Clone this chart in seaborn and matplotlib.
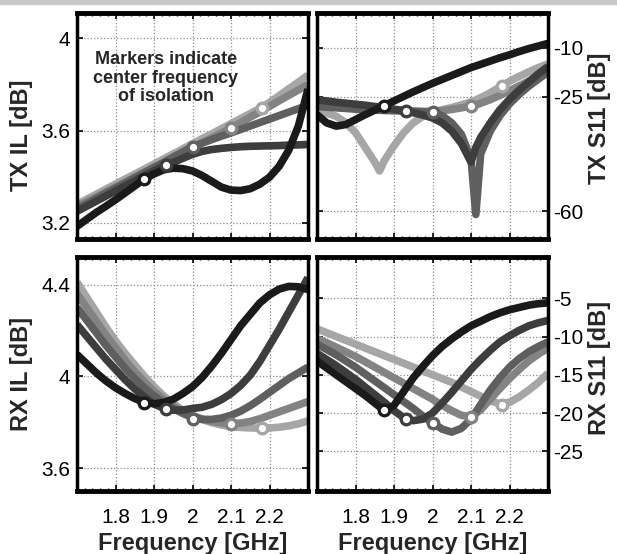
import numpy as np
import pandas as pd
import seaborn as sns
import matplotlib.pyplot as plt
from matplotlib.ticker import FixedLocator, MultipleLocator
from matplotlib.patches import Rectangle

############################## data ##############################

# common frequency grid [GHz]
FREQ = [1.700, 1.725, 1.750, 1.775, 1.800, 1.825, 1.850, 1.875, 1.900, 1.925,
        1.950, 1.975, 2.000, 2.025, 2.050, 2.075, 2.100, 2.125, 2.150, 2.175,
        2.200, 2.225, 2.250, 2.275, 2.300]

# TX S11 needs two extra points at the notches
FREQ_TX_S11 = [1.700, 1.725, 1.750, 1.775, 1.800, 1.825, 1.850, 1.8625, 1.875,
               1.900, 1.925, 1.950, 1.975, 2.000, 2.025, 2.050, 2.075, 2.100,
               2.1125, 2.125, 2.150, 2.175, 2.200, 2.225, 2.250, 2.275, 2.300]

# one curve per isolation centre frequency (darkest -> lightest)
SERIES = ['1.88 GHz', '1.93 GHz', '2.00 GHz', '2.10 GHz', '2.18 GHz']
COLORS = ['#1a1a1a', '#3d3d3d', '#5f5f5f', '#838383', '#a6a6a6']

# markers: centre frequency of isolation
MARK_FREQ = [1.875, 1.93, 2.0, 2.1, 2.18]

TX_IL_1 = [3.185, 3.215, 3.245, 3.272, 3.300, 3.330, 3.360, 3.390, 3.412, 3.430, 3.437, 3.435, 3.425,
           3.405, 3.380, 3.355, 3.342, 3.340, 3.348, 3.368, 3.398, 3.445, 3.515, 3.620, 3.780]
TX_IL_2 = [3.250, 3.272, 3.294, 3.316, 3.338, 3.360, 3.382, 3.404, 3.426, 3.445, 3.462, 3.480, 3.497,
           3.510, 3.518, 3.523, 3.527, 3.530, 3.532, 3.533, 3.534, 3.535, 3.537, 3.538, 3.540]
TX_IL_3 = [3.260, 3.282, 3.305, 3.328, 3.350, 3.372, 3.395, 3.418, 3.440, 3.462, 3.485, 3.508, 3.530,
           3.546, 3.561, 3.576, 3.590, 3.605, 3.620, 3.635, 3.650, 3.665, 3.680, 3.695, 3.710]
TX_IL_4 = [3.270, 3.291, 3.312, 3.334, 3.355, 3.376, 3.398, 3.419, 3.440, 3.461, 3.483, 3.504, 3.525,
           3.546, 3.568, 3.589, 3.610, 3.634, 3.658, 3.681, 3.705, 3.729, 3.753, 3.776, 3.800]
TX_IL_5 = [3.280, 3.302, 3.324, 3.346, 3.368, 3.390, 3.411, 3.433, 3.455, 3.477, 3.499, 3.521, 3.543,
           3.565, 3.586, 3.608, 3.630, 3.652, 3.674, 3.696, 3.722, 3.751, 3.781, 3.810, 3.840]
TX_IL_MARKS = [3.39, 3.45, 3.53, 3.61, 3.70]

TX_S11_1 = [-30.5, -33.0, -34.0, -33.5, -32.0, -30.5, -29.1, -28.4, -27.7, -26.3, -24.9, -23.5, -22.2, -20.9,
            -19.7, -18.5, -17.3, -16.1, -15.6, -15.1, -14.1, -13.1, -12.2, -11.2, -10.3, -9.5, -8.7]
TX_S11_2 = [-26.0, -26.3, -26.7, -27.0, -27.3, -27.6, -28.0, -28.2, -28.4, -28.8, -29.3, -29.9, -30.6, -31.5,
            -33.0, -35.5, -39.3, -45.0, -40.5, -37.5, -33.0, -29.0, -25.8, -23.0, -20.5, -18.0, -15.8]
TX_S11_3 = [-28.0, -28.2, -28.4, -28.6, -28.8, -29.0, -29.1, -29.15, -29.2, -29.3, -29.4, -29.5, -29.6, -29.8,
            -30.8, -33.0, -36.5, -44.0, -61.0, -42.5, -35.5, -30.8, -27.2, -24.3, -21.8, -19.6, -17.5]
TX_S11_4 = [-27.0, -27.2, -27.4, -27.6, -27.9, -28.2, -28.5, -28.6, -28.7, -29.0, -29.2, -29.4, -29.5, -29.5,
            -29.3, -28.9, -28.4, -27.9, -27.5, -27.0, -25.9, -24.6, -23.2, -21.7, -20.2, -18.7, -17.3]
TX_S11_5 = [-29.5, -30.0, -31.0, -33.0, -36.0, -40.5, -45.0, -47.7, -44.5, -40.0, -36.0, -33.0, -31.0, -29.8,
            -29.0, -28.3, -27.5, -26.6, -26.0, -25.3, -23.8, -22.0, -20.3, -18.8, -17.4, -16.1, -15.0]
TX_S11_MARKS = [-27.7, -29.4, -29.7, -27.9, -21.6]

RX_IL_1 = [4.095, 4.055, 4.015, 3.980, 3.950, 3.925, 3.903, 3.887, 3.880, 3.886, 3.900, 3.925, 3.955,
           3.995, 4.045, 4.100, 4.160, 4.220, 4.270, 4.320, 4.355, 4.380, 4.392, 4.390, 4.378]
RX_IL_2 = [4.225, 4.175, 4.125, 4.075, 4.030, 3.985, 3.945, 3.910, 3.880, 3.860, 3.852, 3.853, 3.860,
           3.865, 3.878, 3.898, 3.925, 3.960, 4.005, 4.065, 4.135, 4.205, 4.280, 4.355, 4.430]
RX_IL_3 = [4.300, 4.245, 4.190, 4.135, 4.085, 4.035, 3.990, 3.950, 3.915, 3.885, 3.860, 3.838, 3.820,
           3.812, 3.812, 3.818, 3.830, 3.848, 3.872, 3.900, 3.930, 3.960, 3.990, 4.015, 4.040]
RX_IL_4 = [4.360, 4.300, 4.240, 4.180, 4.125, 4.070, 4.020, 3.975, 3.935, 3.900, 3.870, 3.847, 3.828,
           3.814, 3.804, 3.797, 3.794, 3.796, 3.803, 3.815, 3.830, 3.845, 3.860, 3.875, 3.890]
RX_IL_5 = [4.410, 4.345, 4.280, 4.215, 4.155, 4.100, 4.050, 4.000, 3.955, 3.915, 3.880, 3.852, 3.830,
           3.812, 3.798, 3.788, 3.781, 3.777, 3.775, 3.774, 3.775, 3.778, 3.784, 3.793, 3.805]
RX_IL_MARKS = [3.884, 3.856, 3.815, 3.794, 3.774]

RX_S11_1 = [-13.2, -14.1, -15.0, -15.9, -16.8, -17.7, -18.7, -19.7, -19.0, -17.2, -15.4, -13.9, -12.5,
            -11.3, -10.3, -9.4, -8.6, -8.0, -7.4, -6.9, -6.5, -6.2, -5.9, -5.7, -5.6]
RX_S11_2 = [-12.2, -13.0, -13.8, -14.7, -15.6, -16.6, -17.6, -18.6, -19.7, -20.6, -21.0, -20.8, -20.0,
            -18.7, -17.3, -15.8, -14.3, -13.0, -11.8, -10.7, -9.9, -9.2, -8.6, -8.2, -7.9]
RX_S11_3 = [-11.0, -11.7, -12.4, -13.2, -14.0, -14.9, -15.8, -16.7, -17.6, -18.5, -19.4, -20.4, -21.3,
            -22.1, -22.5, -22.0, -20.8, -18.9, -17.0, -15.4, -14.0, -12.9, -12.0, -11.3, -10.7]
RX_S11_4 = [-10.3, -10.8, -11.4, -12.0, -12.6, -13.3, -14.0, -14.7, -15.4, -16.1, -16.8, -17.5, -18.2,
            -19.0, -19.7, -20.3, -20.5, -19.6, -18.2, -16.8, -15.5, -14.3, -13.2, -12.3, -11.5]
RX_S11_5 = [-9.0, -9.5, -10.0, -10.5, -11.0, -11.5, -12.0, -12.5, -13.0, -13.5, -14.0, -14.5, -15.0,
            -15.5, -16.0, -16.6, -17.2, -17.8, -18.4, -18.8, -18.6, -17.9, -17.0, -16.0, -14.8]
RX_S11_MARKS = [-19.6, -20.8, -21.3, -20.5, -18.9]

X_TICKS = [1.8, 1.9, 2.0, 2.1, 2.2]
X_TICK_LABELS = ['1.8', '1.9', '2', '2.1', '2.2']


############################## helpers ##############################

def long_table(freq, curves):
    '''stack the five curves of one panel into a long dataframe for seaborn'''
    frames = [pd.DataFrame({'freq': freq, 'value': vals, 'series': name})
              for name, vals in zip(SERIES, curves)]
    return pd.concat(frames, ignore_index=True)


def style_axis(ax, yticks, yticklabels, ylim, right_side, show_x):
    ax.set_xlim(1.7, 2.3)
    ax.set_ylim(*ylim)
    ax.xaxis.set_major_locator(FixedLocator(X_TICKS))
    ax.xaxis.set_minor_locator(MultipleLocator(0.02))
    ax.set_xticklabels(X_TICK_LABELS if show_x else [])
    ax.yaxis.set_major_locator(FixedLocator(yticks))
    ax.set_yticklabels(yticklabels)
    ax.grid(True, which='major', ls=':', color='#8c8c8c', lw=0.9)
    ax.tick_params(which='both', direction='in', top=True, bottom=True, left=True, right=True,
                   labelsize=15, colors='black')
    ax.tick_params(which='major', length=4, width=1.2)
    ax.tick_params(which='minor', length=2.5, width=1)
    ax.tick_params(axis='x', pad=12)
    if right_side:
        ax.tick_params(axis='y', labelleft=False, labelright=True, pad=4)
        ax.yaxis.set_label_position('right')
    else:
        ax.tick_params(axis='y', pad=5)
    for side, sp in ax.spines.items():
        sp.set_visible(True)
        sp.set_color('black')
        sp.set_linewidth(3.5 if side in ('top', 'bottom') else 2.5)
    ax.set_xlabel('')
    ax.set_ylabel('')


############################## plot ##############################

sns.set_theme(style='white')
plt.rcParams['font.family'] = ['Liberation Sans', 'DejaVu Sans']

fig = plt.figure(figsize=(6.17, 5.54), dpi=100)
fig.patches.append(Rectangle((0, 0.992), 1, 0.008, transform=fig.transFigure,
                             color='#c8c8c8', zorder=0))

ax_txil = fig.add_axes([0.1248, 0.5686, 0.3744, 0.408])
ax_txs = fig.add_axes([0.5138, 0.5686, 0.3744, 0.408])
ax_rxil = fig.add_axes([0.1248, 0.1137, 0.3744, 0.4224])
ax_rxs = fig.add_axes([0.5138, 0.1137, 0.3744, 0.4224])

palette = dict(zip(SERIES, COLORS))
draw_order = SERIES[::-1]   # lightest first so the black curve ends up on top

panels = [
    (ax_txil, FREQ, [TX_IL_1, TX_IL_2, TX_IL_3, TX_IL_4, TX_IL_5], TX_IL_MARKS,
     [3.2, 3.6, 4.0], ['3.2', '3.6', '4'], (3.13, 4.11), False, False),
    (ax_txs, FREQ_TX_S11, [TX_S11_1, TX_S11_2, TX_S11_3, TX_S11_4, TX_S11_5], TX_S11_MARKS,
     [-60, -25, -10], ['-60', '-25', '-10'], (-68.5, 0.6), True, False),
    (ax_rxil, FREQ, [RX_IL_1, RX_IL_2, RX_IL_3, RX_IL_4, RX_IL_5], RX_IL_MARKS,
     [3.6, 4.0, 4.4], ['3.6', '4', '4.4'], (3.5, 4.52), False, True),
    (ax_rxs, FREQ, [RX_S11_1, RX_S11_2, RX_S11_3, RX_S11_4, RX_S11_5], RX_S11_MARKS,
     [-25, -20, -15, -10, -5], ['-25', '-20', '-15', '-10', '-5'], (-30.2, 0.4), True, True),
]

for ax, freq, curves, marks, yt, ytl, ylim, right_side, show_x in panels:
    df = long_table(freq, curves)
    sns.lineplot(data=df, x='freq', y='value', hue='series', hue_order=draw_order,
                 palette=palette, lw=5.5, legend=False, ax=ax, sort=False,
                 solid_capstyle='butt')

    # ring markers: coloured disc with a white centre
    mk = pd.DataFrame({'freq': MARK_FREQ, 'value': marks, 'series': SERIES})
    sns.lineplot(data=mk, x='freq', y='value', hue='series', hue_order=draw_order,
                 palette=palette, marker='o', markersize=10, markeredgewidth=0,
                 linestyle='', legend=False, ax=ax, zorder=5)
    sns.lineplot(data=mk, x='freq', y='value', hue='series', hue_order=draw_order,
                 palette={s: 'white' for s in SERIES}, marker='o', markersize=5.2,
                 markeredgewidth=0, linestyle='', legend=False, ax=ax, zorder=6)

    style_axis(ax, yt, ytl, ylim, right_side, show_x)

# axis labels
lab = dict(fontsize=17, fontweight='bold')
ax_txil.set_ylabel('TX IL [dB]', **lab)
ax_txil.yaxis.set_label_coords(-0.19, 0.46)
ax_rxil.set_ylabel('RX IL [dB]', **lab)
ax_rxil.yaxis.set_label_coords(-0.19, 0.5)
ax_txs.set_ylabel('TX S11 [dB]', **lab)
ax_txs.yaxis.set_label_coords(1.175, 0.535)
ax_rxs.set_ylabel('RX S11 [dB]', **lab)
ax_rxs.yaxis.set_label_coords(1.175, 0.526)
for ax in (ax_rxil, ax_rxs):
    ax.set_xlabel('Frequency [GHz]', **lab)
    ax.xaxis.set_label_coords(0.5, -0.175)

ax_txil.text(0.385, 0.712, 'Markers indicate\ncenter frequency\nof isolation',
             transform=ax_txil.transAxes, ha='center', va='center', ma='center',
             fontsize=13, fontweight='bold', linespacing=1.1, zorder=7)

fig.savefig('out.png', dpi=100)
